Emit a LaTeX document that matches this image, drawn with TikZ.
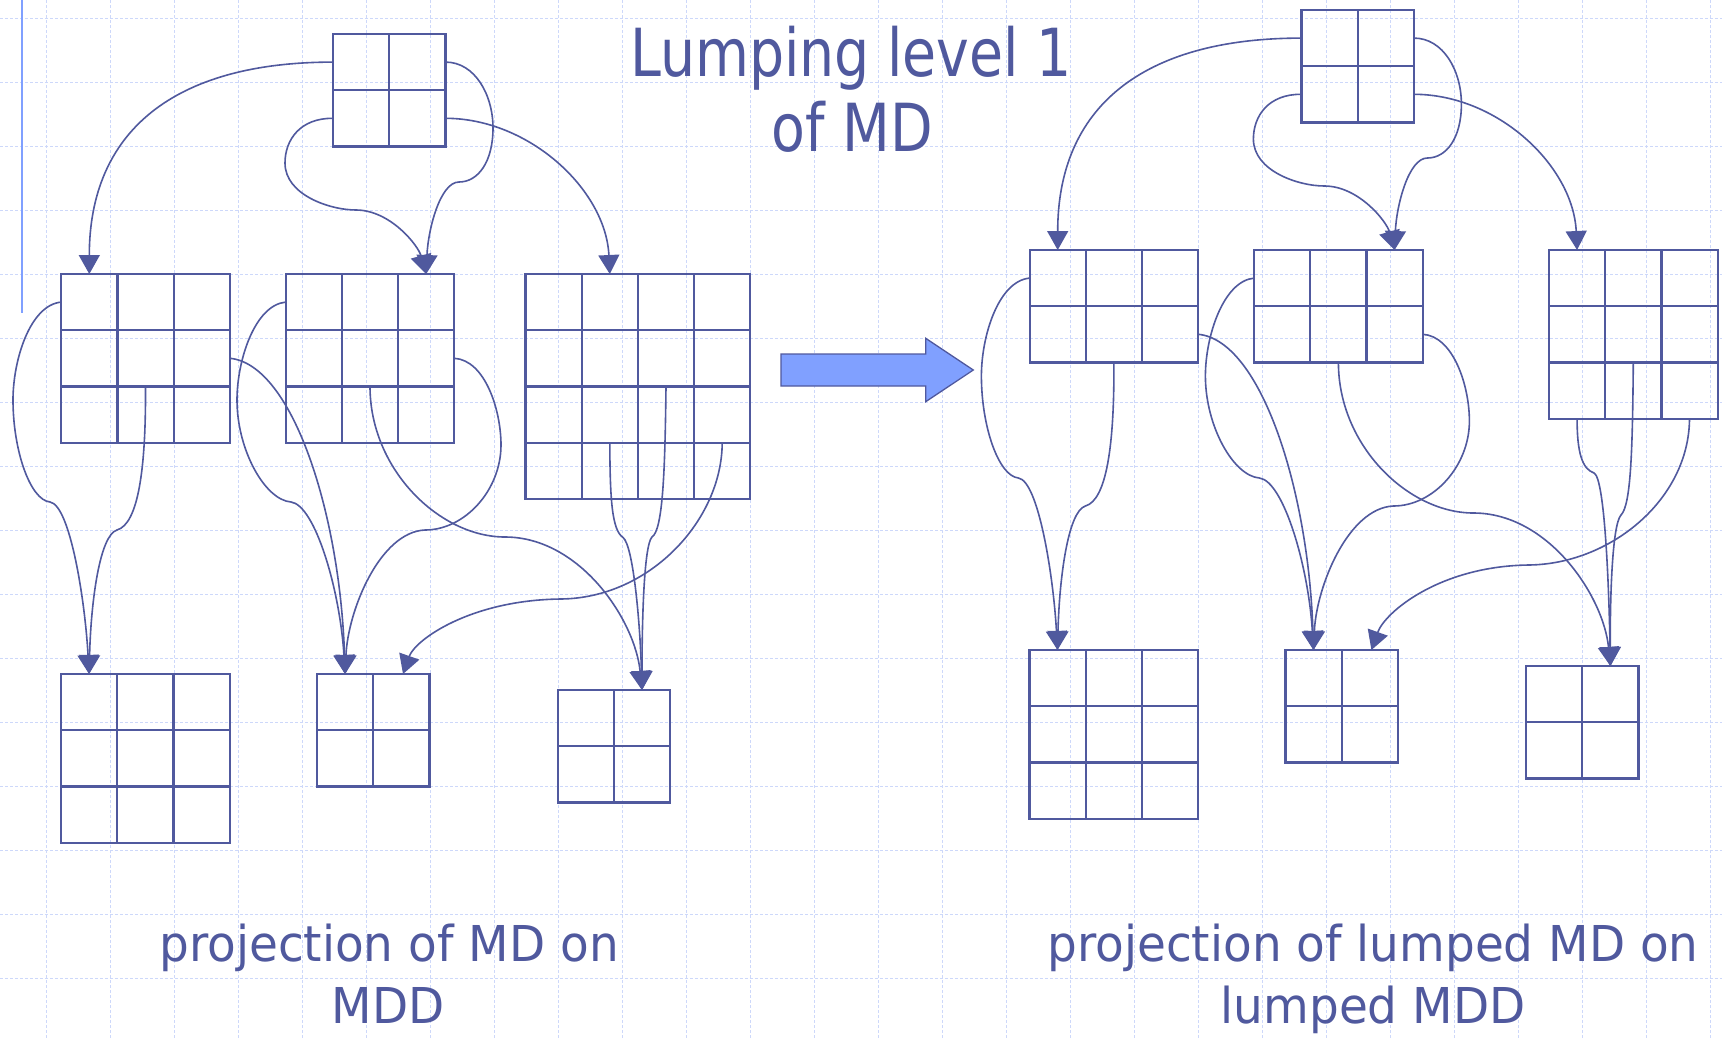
\documentclass[tikz,border=0pt]{standalone}
\usepackage{fontspec}
\setmainfont{DejaVu Sans}
\newfontfamily\titlefont{DejaVu Sans}[FakeStretch=0.835]
\newfontfamily\labelfont{DejaVu Sans}[FakeStretch=0.95]
\usetikzlibrary{arrows.meta,calc}

\definecolor{mdblue}{RGB}{80,89,158}
\definecolor{arrowfill}{RGB}{128,160,255}
\definecolor{gridblue}{RGB}{205,216,250}

\newcommand{\cellsz}{56.2}
% grid of cells: name, left x, top y, columns, rows
\newcommand{\mdgrid}[5]{%
  \node[gridbox, minimum width={#4*\cellsz pt}, minimum height={#5*\cellsz pt}] (#1) at (#2,#3) {};
  \foreach \i in {2,...,#4}{\draw[boxline] ($(#1.north west)+({(\i-1)*\cellsz},0)$) -- ($(#1.south west)+({(\i-1)*\cellsz},0)$);}
  \foreach \j in {2,...,#5}{\draw[boxline] ($(#1.north west)+(0,{(\j-1)*\cellsz})$) -- ($(#1.north east)+(0,{(\j-1)*\cellsz})$);}
}

\tikzset{
  gridbox/.style={draw=mdblue, line width=2.2pt, inner sep=0pt, outer sep=0pt, anchor=north west},
  boxline/.style={draw=mdblue, line width=2.2pt},
  conn/.style={draw=mdblue, line width=1.6pt, -{Triangle[length=19pt,width=21pt]}},
  gridline/.style={draw=gridblue, line width=1pt, dash pattern=on 3pt off 2pt},
  titletext/.style={font=\titlefont\fontsize{66.3}{75}\selectfont, text=mdblue, inner sep=0pt, anchor=base},
  labeltext/.style={font=\labelfont\fontsize{49.4}{62}\selectfont, text=mdblue, inner sep=0pt, anchor=base},
}

\begin{document}
\begin{tikzpicture}[x=1pt, y=-1pt]
  \fill[white] (0,0) rectangle (1722,1039);
  \useasboundingbox (0,0) rectangle (1722,1039);

  % dashed background grid
  \foreach \gy in {18,82,...,978} \draw[gridline] (0,\gy) -- (1722,\gy);
  \foreach \gx in {46,110,...,1710} \draw[gridline] (\gx,0) -- (\gx,1039);

  % left margin bar
  \draw[arrowfill, line width=1.8pt] (22.3,0) -- (22.3,313);

  % title
  \node[titletext] (title1) at (851,76.7) {Lumping level 1};
  \node[titletext] (title2) at (852.5,151.7) {of MD};

  % ---------- MD and its MDD (left) ----------
  \mdgrid{M0}{333}{34}{2}{2}
  \mdgrid{A}{61.2}{274}{3}{3}
  \mdgrid{B}{285.7}{274}{3}{3}
  \mdgrid{C}{525.5}{274}{4}{4}
  \mdgrid{D}{61}{674}{3}{3}
  \mdgrid{E}{317}{674}{2}{2}
  \mdgrid{F}{557.7}{690}{2}{2}

  % ---------- lumped MD and lumped MDD (right) ----------
  \mdgrid{M0r}{1301.4}{10}{2}{2}
  \mdgrid{Ar}{1029.6}{250}{3}{2}
  \mdgrid{Br}{1254.1}{250}{3}{2}
  \mdgrid{Cr}{1549}{250}{3}{3}
  \mdgrid{Dr}{1029.4}{650}{3}{3}
  \mdgrid{Er}{1285.4}{650}{2}{2}
  \mdgrid{Fr}{1526.1}{666}{2}{2}

  % lumping arrow
  \draw[fill=arrowfill, draw=mdblue, line width=1.3pt]
    (781,354) -- (925.7,354) -- (925.7,338.3) -- (973.3,370)
    -- (925.7,401.7) -- (925.7,386) -- (781,386) -- cycle;

  % ---------- connectors, left ----------
  \draw[conn] ($(M0.north west)+(0,28.1)$) .. controls +(-160,0) and +(0,-142) .. ($(A.north west)+(28.1,0)$);
  \draw[conn] ($(M0.north east)+(0,28.1)$) .. controls (475,62) and (493,95) .. (493,128)
     .. controls (493,162) and (478,182) .. (459,182)
     .. controls (440,182) and (428,230) .. ($(B.north west)+(140.5,0)$);
  \draw[conn] ($(M0.north west)+(0,84.3)$) .. controls (300,118) and (285,140) .. (285,163)
     .. controls (285,195) and (330,210) .. (356,210)
     .. controls (390,210) and (418,245) .. ($(B.north west)+(140.5,0)$);
  \draw[conn] ($(M0.north east)+(0,84.3)$) .. controls +(84,0) and +(-4,-84) .. ($(C.north west)+(84.3,0)$);

  \draw[conn] ($(A.north west)+(0,28.1)$) .. controls (30,305) and (13,360) .. (13,400)
     .. controls (13,450) and (30,500) .. (50,502)
     .. controls (70,505) and (85,600) .. ($(D.north west)+(28.1,0)$);
  \draw[conn] ($(A.north west)+(84.3,112.4)$) .. controls (146,470) and (138,524) .. (117,530)
     .. controls (100,535) and (91,600) .. ($(D.north west)+(28.1,0)$);
  \draw[conn] ($(A.north east)+(0,84.3)$) .. controls +(62.6,5.7) and +(-5,-160) .. ($(E.north west)+(28.1,0)$);

  \draw[conn] ($(B.north west)+(0,28.1)$) .. controls (255,305) and (237,360) .. (237,400)
     .. controls (237,450) and (265,500) .. (291,502)
     .. controls (315,505) and (340,590) .. ($(E.north west)+(28.1,0)$);
  \draw[conn] ($(B.north east)+(0,84.3)$) .. controls (485,360) and (501,410) .. (501,445)
     .. controls (501,490) and (465,530) .. (425,530)
     .. controls (380,532) and (348,610) .. ($(E.north west)+(28.1,0)$);
  \draw[conn] ($(B.north west)+(84.3,112.4)$) .. controls (370,470) and (440,537) .. (505,537)
     .. controls (580,537) and (635,620) .. ($(F.north west)+(84.3,0)$);

  \draw[conn] ($(C.north west)+(84.3,168.6)$) .. controls (610,500) and (612,530) .. (623,537.5)
     .. controls (633,545) and (640,620) .. ($(F.north west)+(84.3,0)$);
  \draw[conn] ($(C.north west)+(140.5,112.4)$) .. controls (665,470) and (663,530) .. (652,537)
     .. controls (644,545) and (642,620) .. ($(F.north west)+(84.3,0)$);
  \draw[conn] ($(C.north west)+(196.7,168.6)$) .. controls (722,520) and (650,598) .. (561,599)
     .. controls (470,600) and (415,640) .. ($(E.north west)+(86,0)$);

  % ---------- connectors, right ----------
  \draw[conn] ($(M0r.north west)+(0,28.1)$) .. controls +(-160,0) and +(0,-142) .. ($(Ar.north west)+(28.1,0)$);
  \draw[conn] ($(M0r.north east)+(0,28.1)$) .. controls (1443.4,38) and (1461.4,71) .. (1461.4,104)
     .. controls (1461.4,138) and (1446.4,158) .. (1427.4,158)
     .. controls (1408.4,158) and (1396.4,206) .. ($(Br.north west)+(140.5,0)$);
  \draw[conn] ($(M0r.north west)+(0,84.3)$) .. controls (1268.4,94) and (1253.4,116) .. (1253.4,139)
     .. controls (1253.4,171) and (1298.4,186) .. (1324.4,186)
     .. controls (1358.4,186) and (1386.4,221) .. ($(Br.north west)+(140.5,0)$);
  \draw[conn] ($(M0r.north east)+(0,84.3)$) .. controls +(84,0) and +(-4,-84) .. ($(Cr.north west)+(28.1,0)$);

  \draw[conn] ($(Ar.north west)+(0,28.1)$) .. controls (998.4,281) and (981.4,336) .. (981.4,376)
     .. controls (981.4,426) and (998.4,476) .. (1018.4,478)
     .. controls (1038.4,481) and (1053.4,576) .. ($(Dr.north west)+(28.1,0)$);
  \draw[conn] ($(Ar.north west)+(84.3,112.4)$) .. controls (1114.4,446) and (1106.4,500) .. (1085.4,506)
     .. controls (1068.4,511) and (1059.4,576) .. ($(Dr.north west)+(28.1,0)$);
  \draw[conn] ($(Ar.north east)+(0,84.3)$) .. controls +(62.6,5.7) and +(-5,-160) .. ($(Er.north west)+(28.1,0)$);

  \draw[conn] ($(Br.north west)+(0,28.1)$) .. controls (1223.4,281) and (1205.4,336) .. (1205.4,376)
     .. controls (1205.4,426) and (1233.4,476) .. (1259.4,478)
     .. controls (1283.4,481) and (1308.4,566) .. ($(Er.north west)+(28.1,0)$);
  \draw[conn] ($(Br.north east)+(0,84.3)$) .. controls (1453.4,336) and (1469.4,386) .. (1469.4,421)
     .. controls (1469.4,466) and (1433.4,506) .. (1393.4,506)
     .. controls (1348.4,508) and (1316.4,586) .. ($(Er.north west)+(28.1,0)$);
  \draw[conn] ($(Br.north west)+(84.3,112.4)$) .. controls (1338.4,446) and (1408.4,513) .. (1473.4,513)
     .. controls (1548.4,513) and (1603.4,596) .. ($(Fr.north west)+(84.3,0)$);

  \draw[conn] ($(Cr.north west)+(28.1,168.6)$) .. controls (1577,452) and (1582,469) .. (1594,473)
     .. controls (1605,478) and (1609,590) .. ($(Fr.north west)+(84.3,0)$);
  \draw[conn] ($(Cr.north west)+(84.3,112.4)$) .. controls (1632.5,450) and (1631,505) .. (1621,515)
     .. controls (1612,525) and (1610,600) .. ($(Fr.north west)+(84.3,0)$);
  \draw[conn] ($(Cr.north west)+(140.5,168.6)$) .. controls (1689,500) and (1610,564) .. (1529,565)
     .. controls (1440,566) and (1385,612) .. ($(Er.north west)+(86,0)$);

  % captions
  \node[labeltext] (capL1) at (389,961) {projection of MD on};
  \node[labeltext] (capL2) at (388,1023.3) {MDD};
  \node[labeltext] (capR1) at (1373,961) {projection of lumped MD on};
  \node[labeltext] (capR2) at (1373,1023.3) {lumped MDD};
\end{tikzpicture}
\end{document}
